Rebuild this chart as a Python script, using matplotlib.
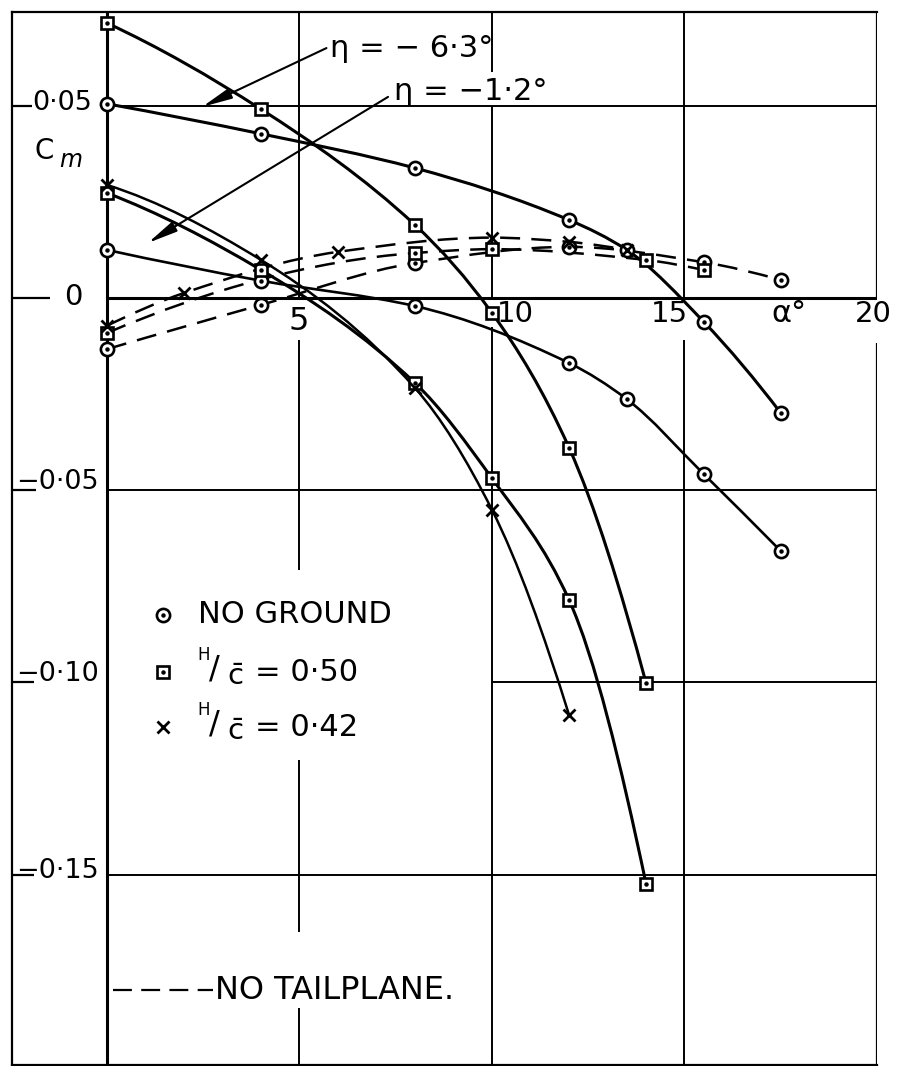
import numpy as np
import matplotlib
matplotlib.use("Agg")
import matplotlib.pyplot as plt
from matplotlib.path import Path
from matplotlib.patches import PathPatch

# ---- data: pitching moment Cm against incidence alpha (deg) ----
# no ground, eta = -6.3 deg
alpha_ng_hi = [0, 4, 8, 12, 13.5, 15.5, 17.5]
cm_ng_hi = [0.0505, 0.0427, 0.0338, 0.0203, 0.0125, -0.0062, -0.0299]
# no ground, eta = -1.2 deg
alpha_ng_lo = [0, 4, 8, 12, 13.5, 15.5, 17.5]
cm_ng_lo = [0.0125, 0.0045, -0.0021, -0.0169, -0.0263, -0.0458, -0.0658]
# H/c = 0.50, eta = -6.3 deg
alpha_h50_hi = [0, 4, 8, 10, 12, 14]
cm_h50_hi = [0.0715, 0.0491, 0.0190, -0.0039, -0.0389, -0.1001]
# H/c = 0.50, eta = -1.2 deg
alpha_h50_lo = [0, 4, 8, 10, 12, 14]
cm_h50_lo = [0.0273, 0.0073, -0.0221, -0.0469, -0.0785, -0.1523]
# H/c = 0.42
alpha_h42 = [0, 4, 8, 10, 12]
cm_h42 = [0.0294, 0.0099, -0.0234, -0.0551, -0.1084]
# no tailplane (dashed)
alpha_nt_ng = [0, 4, 8, 12, 15.5, 17.5]
cm_nt_ng = [-0.0133, -0.0018, 0.0091, 0.0133, 0.0093, 0.0047]
alpha_nt_h50 = [0, 8, 10, 14, 15.5]
cm_nt_h50 = [-0.0091, 0.0117, 0.0127, 0.0099, 0.0073]
alpha_nt_h42 = [0, 2, 6, 10, 12, 13.5]
cm_nt_h42 = [-0.0072, 0.0013, 0.0120, 0.0157, 0.0146, 0.0125]

x_ticks = [5, 10, 15, 20]
y_ticks = [0.05, 0, -0.05, -0.10, -0.15]
y_tick_labels = ["0·05", "0", "−0·05", "−0·10", "−0·15"]

FONT = "DejaVu Sans"
plt.rcParams["font.family"] = [FONT]
plt.rcParams["mathtext.fontset"] = "dejavusans"

W, H = 898, 1066
fig = plt.figure(figsize=(W / 100, H / 100), dpi=100)
ax = fig.add_axes([12 / W, 1 - 1065 / H, (877 - 12) / W, (1065 - 12) / H])
XMIN, XMAX = -2.4675, 20.0
YMIN, YMAX = -0.19948, 0.07438
ax.set_xlim(XMIN, XMAX)
ax.set_ylim(YMIN, YMAX)
ax.set_xticks([])
ax.set_yticks([])
for side in ("left", "top", "bottom"):
    ax.spines[side].set_linewidth(1.6)
ax.spines["right"].set_visible(False)

K = "black"
GLW = 1.4


def vseg(x, y0, y1, lw=GLW):
    ax.plot([x, x], [y0, y1], color=K, lw=lw, solid_capstyle="butt", zorder=1)


def hseg(y, x0, x1, lw=GLW):
    ax.plot([x0, x1], [y, y], color=K, lw=lw, solid_capstyle="butt", zorder=1)


# grid lines, broken where the lettering sits
vseg(0, YMIN, YMAX, lw=2.2)
vseg(x_ticks[0], 0, YMAX)
vseg(x_ticks[0], -0.0109, -0.0707)
vseg(x_ticks[0], -0.1202, -0.1649)
vseg(x_ticks[0], -0.1847, YMIN)
vseg(x_ticks[1], 0.0588, YMAX)
vseg(x_ticks[1], 0, 0.05)
vseg(x_ticks[1], -0.0075, YMIN)
vseg(x_ticks[2], 0, YMAX)
vseg(x_ticks[2], -0.011, YMIN)
vseg(x_ticks[3], 0, YMAX, lw=1.6)
vseg(x_ticks[3], -0.0117, YMIN, lw=1.6)
hseg(0.05, 0, 20)
hseg(0, 0, 20, lw=2.2)
hseg(-0.05, 0, 20)
hseg(-0.10, 10, 20)
hseg(-0.15, 0, 20)

# tick marks on the left frame
tick_end = {0.05: -1.95, 0: -1.48, -0.05: -1.85, -0.10: -1.9, -0.15: -1.9}
for yv in y_ticks:
    hseg(yv, XMIN, tick_end[yv], lw=1.6)

# y tick labels
ax.text(-1.95, 0.0507, y_tick_labels[0], fontsize=19.5, ha="left", va="center")
ax.text(-0.88, 0.0003, y_tick_labels[1], fontsize=21, ha="center", va="center")
ax.text(-2.36, -0.0479, y_tick_labels[2], fontsize=19.5, ha="left", va="center")
ax.text(-2.36, -0.0978, y_tick_labels[3], fontsize=19.5, ha="left", va="center")
ax.text(-2.36, -0.1490, y_tick_labels[4], fontsize=19.5, ha="left", va="center")

# x tick labels
ax.text(4.99, -0.0060, "5", fontsize=23, ha="center", va="center")
ax.text(10.6, -0.0042, "10", fontsize=21, ha="center", va="center")
ax.text(14.6, -0.0042, "15", fontsize=21, ha="center", va="center")
ax.text(19.9, -0.0042, "20", fontsize=21, ha="center", va="center")
ax.text(17.7, -0.0040, "α°", fontsize=22, ha="center", va="center")

# axis name
ax.text(-1.62, 0.0382, "C", fontsize=20, ha="center", va="center")
ax.text(-0.95, 0.0360, "m", fontsize=17, style="italic", ha="center", va="center")


def tangents(x, y):
    """Shape-preserving (PCHIP) slopes at each point."""
    h = np.diff(x)
    d = np.diff(y) / h
    n = len(x)
    m = np.zeros(n)
    for i in range(1, n - 1):
        if d[i - 1] * d[i] > 0:
            w1 = 2 * h[i] + h[i - 1]
            w2 = h[i] + 2 * h[i - 1]
            m[i] = (w1 + w2) / (w1 / d[i - 1] + w2 / d[i])

    def end(h0, h1, d0, d1):
        s = ((2 * h0 + h1) * d0 - h0 * d1) / (h0 + h1)
        if np.sign(s) != np.sign(d0):
            s = 0.0
        elif np.sign(d0) != np.sign(d1) and abs(s) > abs(3 * d0):
            s = 3 * d0
        return s

    if n > 2:
        m[0] = end(h[0], h[1], d[0], d[1])
        m[-1] = end(h[-1], h[-2], d[-1], d[-2])
    else:
        m[:] = d[0]
    return m


def smooth(xs, ys):
    """Cubic Bezier path through the points, parametrised by x."""
    x = np.asarray(xs, float)
    y = np.asarray(ys, float)
    m = tangents(x, y)
    verts = [(x[0], y[0])]
    codes = [Path.MOVETO]
    for i in range(len(x) - 1):
        h = x[i + 1] - x[i]
        verts += [(x[i] + h / 3, y[i] + m[i] * h / 3),
                  (x[i + 1] - h / 3, y[i + 1] - m[i + 1] * h / 3),
                  (x[i + 1], y[i + 1])]
        codes += [Path.CURVE4] * 3
    return Path(verts, codes)


def curve(xs, ys, dashed=False, lw=2.2):
    ls = (0, (8, 4.5)) if dashed else "-"
    ax.add_patch(PathPatch(smooth(xs, ys), fill=False, edgecolor=K,
                           lw=lw, linestyle=ls, zorder=2))


def circles(xs, ys):
    ax.plot(xs, ys, ls="none", marker="o", ms=9.5, mfc="white", mec=K, mew=1.9, zorder=4)
    ax.plot(xs, ys, ls="none", marker="o", ms=2.2, color=K, zorder=5)


def squares(xs, ys):
    ax.plot(xs, ys, ls="none", marker="s", ms=8.5, mfc="white", mec=K, mew=1.9, zorder=4)
    ax.plot(xs, ys, ls="none", marker="o", ms=2.2, color=K, zorder=5)


def crosses(xs, ys):
    ax.plot(xs, ys, ls="none", marker="x", ms=8, color=K, mew=2.0, zorder=5)


curve(alpha_ng_hi, cm_ng_hi)
curve(alpha_ng_lo, cm_ng_lo, lw=1.9)
curve(alpha_h50_hi, cm_h50_hi)
curve(alpha_h50_lo, cm_h50_lo)
curve(alpha_h42, cm_h42, lw=1.8)
curve(alpha_nt_ng, cm_nt_ng, dashed=True, lw=1.8)
curve(alpha_nt_h50, cm_nt_h50, dashed=True, lw=1.8)
curve(alpha_nt_h42, cm_nt_h42, dashed=True, lw=1.8)

circles(alpha_ng_hi, cm_ng_hi)
circles(alpha_ng_lo, cm_ng_lo)
circles(alpha_nt_ng, cm_nt_ng)
squares(alpha_h50_hi, cm_h50_hi)
squares(alpha_h50_lo, cm_h50_lo)
squares(alpha_nt_h50, cm_nt_h50)
crosses(alpha_h42, cm_h42)
crosses(alpha_nt_h42, cm_nt_h42)

# elevator-angle labels with leader arrows
arrow_kw = dict(arrowstyle="-|>,head_length=0.9,head_width=0.16", color=K,
                lw=1.5, shrinkA=0, shrinkB=0, mutation_scale=20)
ax.annotate("", xy=(2.47, 0.0497), xytext=(5.70, 0.0650), arrowprops=arrow_kw, zorder=6)
ax.annotate("", xy=(1.06, 0.0143), xytext=(7.30, 0.0523), arrowprops=arrow_kw, zorder=6)
ax.text(5.80, 0.0650, "η = − 6·3°", fontsize=22, ha="left", va="center")
ax.text(7.45, 0.0537, "η = −1·2°", fontsize=22, ha="left", va="center")

# key
circles([1.45], [-0.0824])
squares([1.45], [-0.0973])
crosses([1.45], [-0.1116])
ax.text(2.36, -0.0824, "NO GROUND", fontsize=22, ha="left", va="center")
for yc, val in ((-0.0973, "= 0·50"), (-0.1116, "= 0·42")):
    ax.text(2.52, yc + 0.0045, "H", fontsize=12, ha="center", va="center")
    ax.text(2.80, yc + 0.0008, "/", fontsize=23, ha="center", va="center")
    ax.text(3.32, yc - 0.0012, r"$\bar{\mathsf{c}}$", fontsize=21, ha="center", va="center")
    ax.text(3.85, yc, val, fontsize=22, ha="left", va="center")

ax.plot([0.16, 2.75], [-0.1800, -0.1800], color=K, lw=1.6,
        linestyle=(0, (8.5, 4.2)), zorder=3)
ax.text(2.80, -0.1800, "NO TAILPLANE.", fontsize=23, ha="left", va="center")

fig.savefig("out.png", dpi=100, facecolor="white")
